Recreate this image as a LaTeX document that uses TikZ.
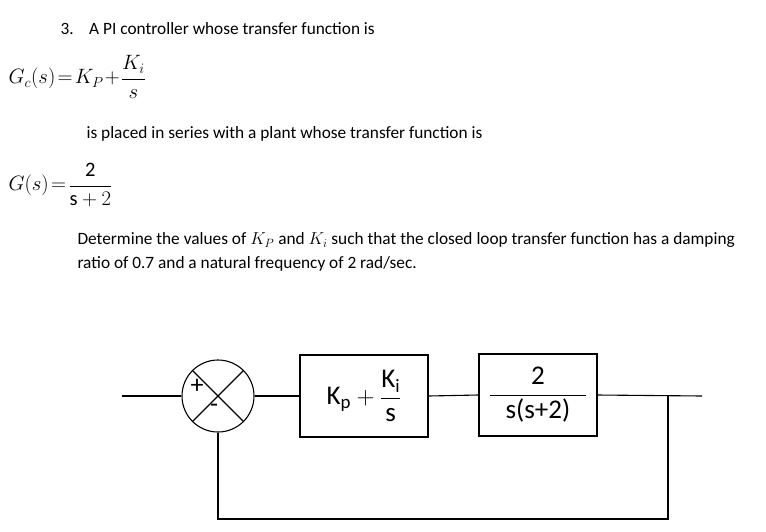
\documentclass[tikz,border=0pt]{standalone}
\usepackage{fontspec}
\setmainfont{Carlito}
\begin{document}
\begin{tikzpicture}[x=1pt,y=-1pt,line width=1.1pt,
  txt/.style={anchor=west,inner sep=0pt,font=\fontsize{17.3}{20}\selectfont},
  blk/.style={draw,minimum width=#1,minimum height=82,inner sep=0pt,font=\fontsize{27}{30}\selectfont}]
\useasboundingbox (0,0) rectangle (766,531);
\node[txt] (t1) at (60,29) {3.\hspace{0.9em}A PI controller whose transfer function is};
\node[txt,font=\fontsize{20.5}{24}\selectfont] (e1) at (8,77) {$G_c(s)\!=\!K_P\!+\!\displaystyle\frac{K_i}{s}$};
\node[txt] (t2) at (86,134) {is placed in series with a plant whose transfer function is};
\node[txt,font=\fontsize{20.5}{24}\selectfont] (e2) at (8,185) {$G(s)\!=\!\displaystyle\frac{\mathrm{2}}{\mathrm{s}+2}$};
\node[txt] (t3) at (77,240) {Determine the values of $K_P$ and $K_i$ such that the closed loop transfer function has a damping};
\node[txt] (t4) at (77,264) {ratio of 0.7 and a natural frequency of 2 rad/sec.};
\node[draw,circle,minimum size=72,inner sep=0pt] (sum) at (218,396) {};
\draw (sum.north west) -- (sum.south east) (sum.north east) -- (sum.south west);
\node[font=\fontsize{26}{28}\selectfont] (pl) at (197,386) {+};
\node[font=\fontsize{26}{28}\selectfont] (mi) at (214,408) {-};
\node[blk=128] (b1) at (364,396) {$\mathrm{K_p}+\displaystyle\frac{\mathrm{K_i}}{\mathrm{s}}$};
\node[blk=118] (b2) at (538,395) {$\displaystyle\frac{\mathrm{2}}{\hbox to 96pt{\hfil s(s+2)\hfil}}$};
\coordinate (in) at (122,396);
\coordinate (out) at (702,396);
\coordinate (br) at (668,396);
\coordinate (bl) at (218,519);
\coordinate (bb) at (668,519);
\draw (in) -- (sum.west);
\draw (sum.east) -- (b1.west);
\draw (b1.east) -- (b2.west);
\draw (b2.east) -- (out);
\draw (br) -- (bb) -- (bl) -- (sum.south);
\end{tikzpicture}
\end{document}
